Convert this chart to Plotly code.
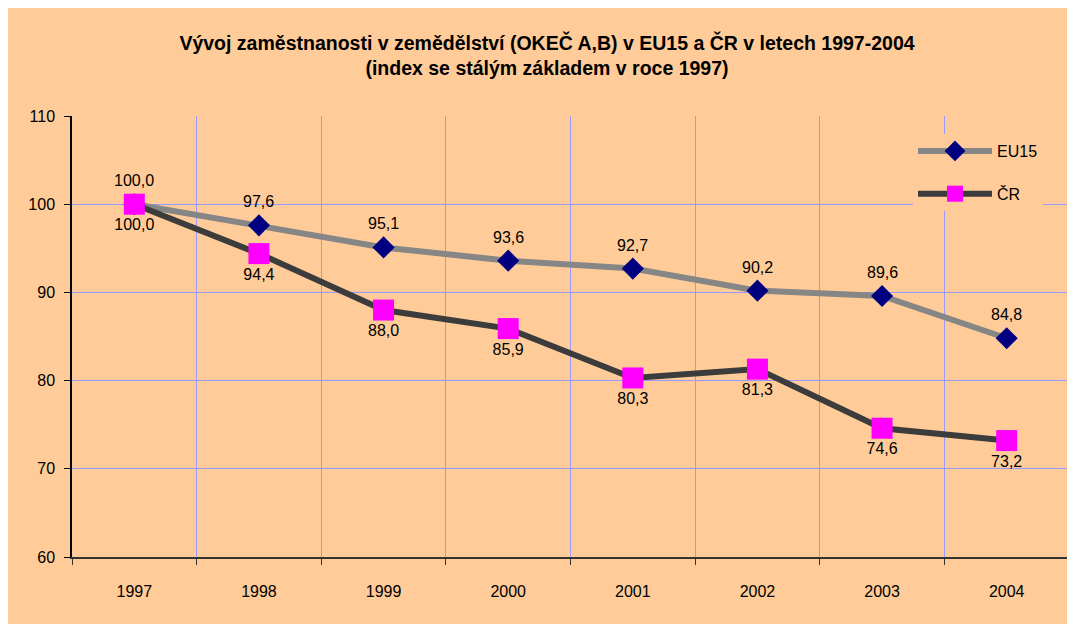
import plotly.graph_objects as go

years = ["1997", "1998", "1999", "2000", "2001", "2002", "2003", "2004"]
eu15 = [100.0, 97.6, 95.1, 93.6, 92.7, 90.2, 89.6, 84.8]
cr = [100.0, 94.4, 88.0, 85.9, 80.3, 81.3, 74.6, 73.2]
y_ticks = [60, 70, 80, 90, 100, 110]

title_text = ("<b>Vývoj zaměstnanosti v zemědělství (OKEČ A,B) v EU15 a ČR v letech 1997-2004"
              "<br>(index se stálým základem v roce 1997)</b>")

def fmt(v):
    return f"{v:.1f}".replace(".", ",")

PEACH = "#FFCC99"
GRID = "#9999FF"
FONT = "Liberation Sans, Arial, sans-serif"

# figure-space coordinates (page is offset by the 8px body margin)
L, T, PW, PH = 64, 108, 997, 441

fig = go.Figure()
fig.add_trace(go.Scatter(
    x=years, y=eu15, name="EU15", legendgroup="a",
    mode="lines+markers",
    line=dict(color="#868686", width=6),
    marker=dict(symbol="diamond", size=17, color="#000080"),
))
fig.add_trace(go.Scatter(
    x=years, y=cr, name="ČR", legendgroup="b",
    mode="lines+markers+text",
    line=dict(color="#3c3c3c", width=6),
    marker=dict(symbol="square", size=21, color="#FF00FF"),
    text=[fmt(v) for v in cr], textposition="bottom center",
    textfont=dict(family=FONT, size=16, color="black"),
))

# EU15 value labels (category index positions on the category axis)
for i, yv in enumerate(eu15):
    fig.add_annotation(x=i, y=yv, xref="x", yref="y", text=fmt(yv), showarrow=False,
                       yanchor="bottom", yshift=13,
                       font=dict(family=FONT, size=16, color="black"))

fig.update_layout(
    width=1075, height=624,
    margin=dict(l=L, r=1075 - L - PW, t=T, b=624 - T - PH),
    paper_bgcolor=PEACH, plot_bgcolor=PEACH,
    font=dict(family=FONT, size=16, color="black"),
    title=dict(text=title_text, x=539 / 1075, xanchor="center",
               y=1 - 42 / 624, yanchor="middle",
               font=dict(family=FONT, size=19.5, color="black")),
    legend=dict(x=(905 - L) / PW, y=(T + PH - 126) / PH, xanchor="left", yanchor="top",
                bgcolor=PEACH, borderwidth=0, tracegroupgap=19, itemwidth=74,
                font=dict(family=FONT, size=16, color="black")),
    xaxis=dict(type="category", categoryorder="array", categoryarray=years,
               range=[-0.5, len(years) - 0.5],
               tickson="boundaries", showgrid=True, gridcolor=GRID, gridwidth=1,
               showline=True, linecolor="#333333", linewidth=1.5,
               ticks="outside", ticklen=6, tickcolor="#333333",
               tickfont=dict(family=FONT, size=16), ticklabelstandoff=19,
               zeroline=False, fixedrange=True),
    yaxis=dict(range=[60, 110], tickvals=y_ticks, showgrid=True, gridcolor=GRID, gridwidth=1,
               showline=True, linecolor="black", linewidth=1.5,
               ticks="outside", ticklen=6, tickcolor="black",
               tickfont=dict(family=FONT, size=16), ticklabelstandoff=6,
               zeroline=False),
)

fig.write_html("out.html")
